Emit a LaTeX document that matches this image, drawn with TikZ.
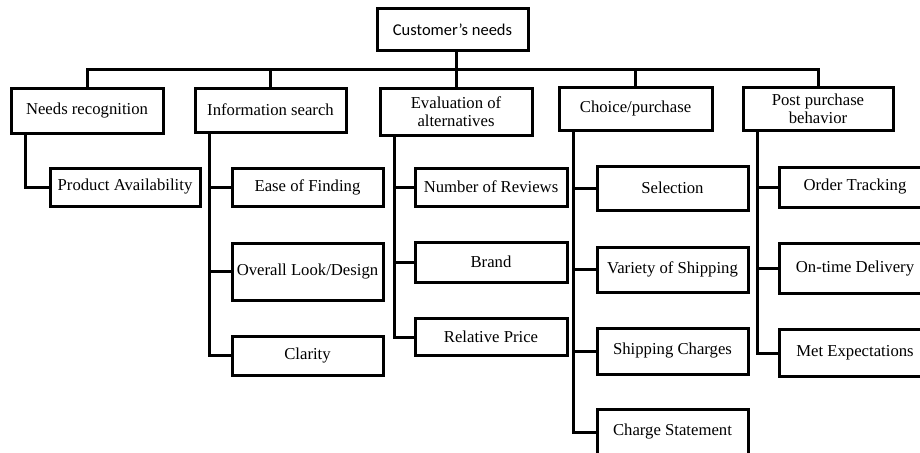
\documentclass[tikz,border=0pt]{standalone}
\usepackage{fontspec}
\setmainfont{Liberation Serif}
\newfontfamily\rootfont{Carlito}
\begin{document}
\begin{tikzpicture}[x=1pt,y=-1pt,
  line width=3pt,
  boxbase/.style={draw=black, line width=3pt, rectangle, inner sep=0pt, align=center,
    font=\fontsize{16.7}{18}\selectfont},
  box/.style n args={2}{boxbase, minimum width=#1, minimum height=#2},
  link/.style={draw=black, line width=3pt}
]
\useasboundingbox (0,0) rectangle (920,452);
\fill[white] (0,0) rectangle (920,452);
\clip (0,0) rectangle (920,452);

% root
\node[box={151pt}{42pt}, font=\rootfont\fontsize{16.5}{18}\selectfont] (root) at (452.5,30) {Customer’s needs};

% stages
\node[box={152pt}{45pt}] (n1) at (87,110.5) {Needs recognition};
\node[box={151pt}{44pt}] (n2) at (270.5,110) {Information search};
\node[box={152pt}{47pt}] (n3) at (456,111.5) {Evaluation of\\alternatives};
\node[box={153pt}{43pt}] (n4) at (635.5,108.5) {Choice/purchase};
\node[box={150pt}{43pt}] (n5) at (818,108.5) {Post purchase\\behavior};

% factors
\node[box={150pt}{38pt}] (c11) at (125,187) {Product Availability};

\node[box={151pt}{38pt}] (c21) at (307.5,187) {Ease of Finding};
\node[box={151pt}{57pt}] (c22) at (307.5,271.5) {Overall Look/Design};
\node[box={151pt}{39pt}] (c23) at (307.5,355.5) {Clarity};

\node[box={152pt}{38pt}] (c31) at (491,187) {Number of Reviews};
\node[box={152pt}{40pt}] (c32) at (491,262) {Brand};
\node[box={152pt}{37pt}] (c33) at (491,337) {Relative Price};

\node[box={151pt}{44pt}] (c41) at (672.5,188) {Selection};
\node[box={151pt}{45pt}] (c42) at (672.5,269.5) {Variety of Shipping};
\node[box={151pt}{46pt}] (c43) at (672.5,351) {Shipping Charges};
\node[box={151pt}{46pt}] (c44) at (672.5,432) {Charge Statement};

\node[box={152pt}{40pt}] (c51) at (855,187) {Order Tracking};
\node[box={152pt}{50pt}] (c52) at (855,268.5) {On-time Delivery};
\node[box={152pt}{47pt}] (c53) at (855,353) {Met Expectations};

% bus from the root to the stages
\coordinate (bus) at (0,69);
\draw[link] (n1.north) |- (n5.north |- bus) -- (n5.north);
\draw[link] (n2.north) -- (n2.north |- bus);
\draw[link] (n4.north) -- (n4.north |- bus);
\draw[link] (n3.north) -- (n3.north |- root.south);

% stage to factor connectors
\foreach \p/\c in {n1/c11, n2/c21, n2/c22, n2/c23, n3/c31, n3/c32, n3/c33,
                   n4/c41, n4/c42, n4/c43, n4/c44, n5/c51, n5/c52, n5/c53}{
  \draw[link] ([xshift=15.5pt]\p.south west) |- (\c.west);
}
\end{tikzpicture}
\end{document}
